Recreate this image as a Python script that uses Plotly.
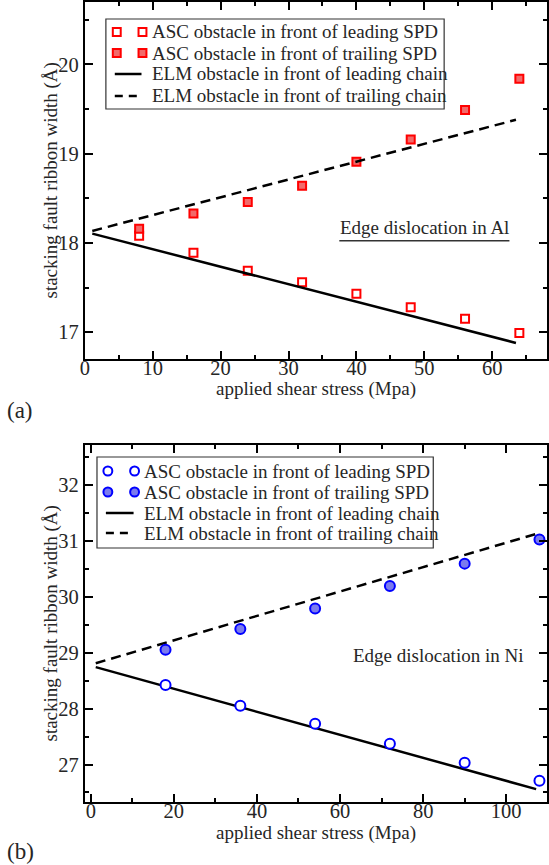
import plotly.graph_objects as go

# ---------------- data ----------------
# (a) Edge dislocation in Al
al_stress = [8, 16, 24, 32, 40, 48, 56, 64]
al_asc_leading = [18.08, 17.89, 17.69, 17.56, 17.43, 17.28, 17.15, 16.99]
al_asc_trailing = [18.16, 18.33, 18.46, 18.64, 18.91, 19.16, 19.49, 19.84]
al_elm_stress = [1.1, 63.5]
al_elm_leading = [18.105, 16.88]
al_elm_trailing = [18.135, 19.38]

# (b) Edge dislocation in Ni
ni_stress = [18, 36, 54, 72, 90, 108]
ni_asc_leading = [28.42, 28.05, 27.73, 27.37, 27.03, 26.71]
ni_asc_trailing = [29.05, 29.42, 29.79, 30.19, 30.59, 31.02]
ni_elm_stress = [1.2, 107.2]
ni_elm_leading = [28.74, 26.56]
ni_elm_trailing = [28.81, 31.12]

legend_labels_al = ["ASC obstacle in front of leading SPD",
                    "ASC obstacle in front of trailing SPD",
                    "ELM obstacle in front of leading chain",
                    "ELM obstacle in front of trailing chain"]
legend_labels_ni = legend_labels_al

# ---------------- styling ----------------
W, H = 549, 865
FONT = "Liberation Serif"
TXT = "#262626"
RED = "#ff0000"
RED_FILL = "#f26a6a"
BLUE = "#0000ff"
BLUE_FILL = "#7b7bee"
DASH = "10px,6px"


def px(x):
    return x / W


def py(y):
    return 1 - y / H


fig = go.Figure()

# ---- panel (a) traces ----
fig.add_trace(go.Scatter(x=al_stress, y=al_asc_leading, mode="markers",
                         marker=dict(symbol="square", size=8, color="white",
                                     line=dict(color=RED, width=2)),
                         xaxis="x", yaxis="y", showlegend=False))
fig.add_trace(go.Scatter(x=al_stress, y=al_asc_trailing, mode="markers",
                         marker=dict(symbol="square", size=8, color=RED_FILL,
                                     line=dict(color=RED, width=2)),
                         xaxis="x", yaxis="y", showlegend=False))
fig.add_trace(go.Scatter(x=al_elm_stress, y=al_elm_leading, mode="lines",
                         line=dict(color="black", width=2.5),
                         xaxis="x", yaxis="y", showlegend=False))
fig.add_trace(go.Scatter(x=al_elm_stress, y=al_elm_trailing, mode="lines",
                         line=dict(color="black", width=2.5, dash=DASH),
                         xaxis="x", yaxis="y", showlegend=False))

# ---- panel (b) traces ----
fig.add_trace(go.Scatter(x=ni_elm_stress, y=ni_elm_leading, mode="lines",
                         line=dict(color="black", width=2.5),
                         xaxis="x2", yaxis="y2", showlegend=False))
fig.add_trace(go.Scatter(x=ni_elm_stress, y=ni_elm_trailing, mode="lines",
                         line=dict(color="black", width=2.5, dash=DASH),
                         xaxis="x2", yaxis="y2", showlegend=False))
fig.add_trace(go.Scatter(x=ni_stress, y=ni_asc_leading, mode="markers",
                         marker=dict(symbol="circle", size=10, color="white",
                                     line=dict(color=BLUE, width=2)),
                         xaxis="x2", yaxis="y2", showlegend=False))
fig.add_trace(go.Scatter(x=ni_stress, y=ni_asc_trailing, mode="markers",
                         marker=dict(symbol="circle", size=10, color=BLUE_FILL,
                                     line=dict(color=BLUE, width=2)),
                         xaxis="x2", yaxis="y2", showlegend=False))

# ---------------- axes ----------------
tickfont = dict(family=FONT, size=20.5, color=TXT)
common = dict(showline=True, linewidth=2, linecolor="black", mirror="ticks",
              ticks="inside", ticklen=8, tickwidth=1.5, tickcolor="black",
              showgrid=False, zeroline=False, tickfont=tickfont)

x_dom = [px(80.7), px(547.5)]
fig.update_layout(
    xaxis=dict(domain=x_dom, range=[0, 68], dtick=10, anchor="y",
               ticklabelstandoff=-11,
               minor=dict(ticks="inside", ticklen=4, dtick=5, tickcolor="black",
                          tickwidth=1.5, showgrid=False), **common),
    yaxis=dict(domain=[py(359), py(2)], range=[16.7, 20.7], dtick=1, anchor="x",
               minor=dict(ticks="inside", ticklen=4, dtick=0.5, tickcolor="black",
                          tickwidth=1.5, showgrid=False), **common),
    xaxis2=dict(domain=x_dom, range=[-1.43, 109.7], dtick=20, tick0=0, anchor="y2",
                ticklabelstandoff=-11,
                minor=dict(ticks="inside", ticklen=4, dtick=10, tickcolor="black",
                           tickwidth=1.5, showgrid=False), **common),
    yaxis2=dict(domain=[py(802), py(445)], range=[26.33, 32.71], dtick=1, anchor="x2",
                minor=dict(ticks="inside", ticklen=4, dtick=0.5, tickcolor="black",
                           tickwidth=1.5, showgrid=False), **common),
)

# ---------------- text ----------------
annotations = []
shapes = []


def text(x, y, s, size=19, xanchor="center", angle=0, family=FONT):
    annotations.append(dict(x=px(x), y=py(y), xref="paper", yref="paper", text=s,
                            showarrow=False, xanchor=xanchor, yanchor="middle",
                            textangle=angle,
                            font=dict(family=family, size=size, color=TXT)))


# axis titles
text(314, 389, "applied shear stress (Mpa)")
text(314, 833, "applied shear stress (Mpa)")
text(47, 180, "stacking fault ribbon width (Å)", angle=-90)
text(47, 623, "stacking fault ribbon width (Å)", angle=-90)

# panel tags
text(0, 410, "(a)", size=23, xanchor="left")
text(0, 851, "(b)", size=23, xanchor="left")

# in-plot labels
text(424, 227, "Edge dislocation in Al")
shapes.append(dict(type="line", xref="paper", yref="paper",
                   x0=px(338), x1=px(510), y0=py(240.7), y1=py(240.7),
                   line=dict(color="#333333", width=1.5)))
text(438, 655, "Edge dislocation in Ni")


# ---------------- legends (two-symbol samples) ----------------
def legend(box, rows, m1, m2, text_x, kind, labels):
    x0, y0, x1, y1 = box
    shapes.append(dict(type="rect", xref="paper", yref="paper",
                       x0=px(x0), x1=px(x1), y0=py(y0), y1=py(y1),
                       line=dict(color="#333333", width=1.2), fillcolor="white",
                       layer="above"))
    for i, (ry, lab) in enumerate(zip(rows, labels)):
        if i < 2:
            filled = i == 1
            for mx in (m1, m2):
                if kind == "square":
                    r = 4
                    shapes.append(dict(type="rect", xref="paper", yref="paper",
                                       x0=px(mx - r), x1=px(mx + r),
                                       y0=py(ry + r), y1=py(ry - r), layer="above",
                                       line=dict(color=RED, width=2),
                                       fillcolor=RED_FILL if filled else "white"))
                else:
                    r = 4.5
                    shapes.append(dict(type="circle", xref="paper", yref="paper",
                                       x0=px(mx - r), x1=px(mx + r),
                                       y0=py(ry + r), y1=py(ry - r), layer="above",
                                       line=dict(color=BLUE, width=2),
                                       fillcolor=BLUE_FILL if filled else "white"))
        else:
            line = dict(color="black", width=2.5)
            if i == 3:
                line["dash"] = "8px,6px"
            shapes.append(dict(type="line", xref="paper", yref="paper",
                               x0=px(m1 - 2), x1=px(m2 - 1), y0=py(ry), y1=py(ry),
                               line=line, layer="above"))
        text(text_x, ry, lab, xanchor="left")


legend((102, 19, 444, 109), [32, 53, 74, 96], 113, 139, 147, "square", legend_labels_al)
legend((93, 457, 433, 548), [471, 492, 513, 533], 104, 131, 139, "circle", legend_labels_ni)

fig.update_layout(
    width=W, height=H, margin=dict(l=0, r=0, t=0, b=0),
    paper_bgcolor="white", plot_bgcolor="white",
    annotations=annotations, shapes=shapes, showlegend=False,
)

fig.write_html("out.html")
